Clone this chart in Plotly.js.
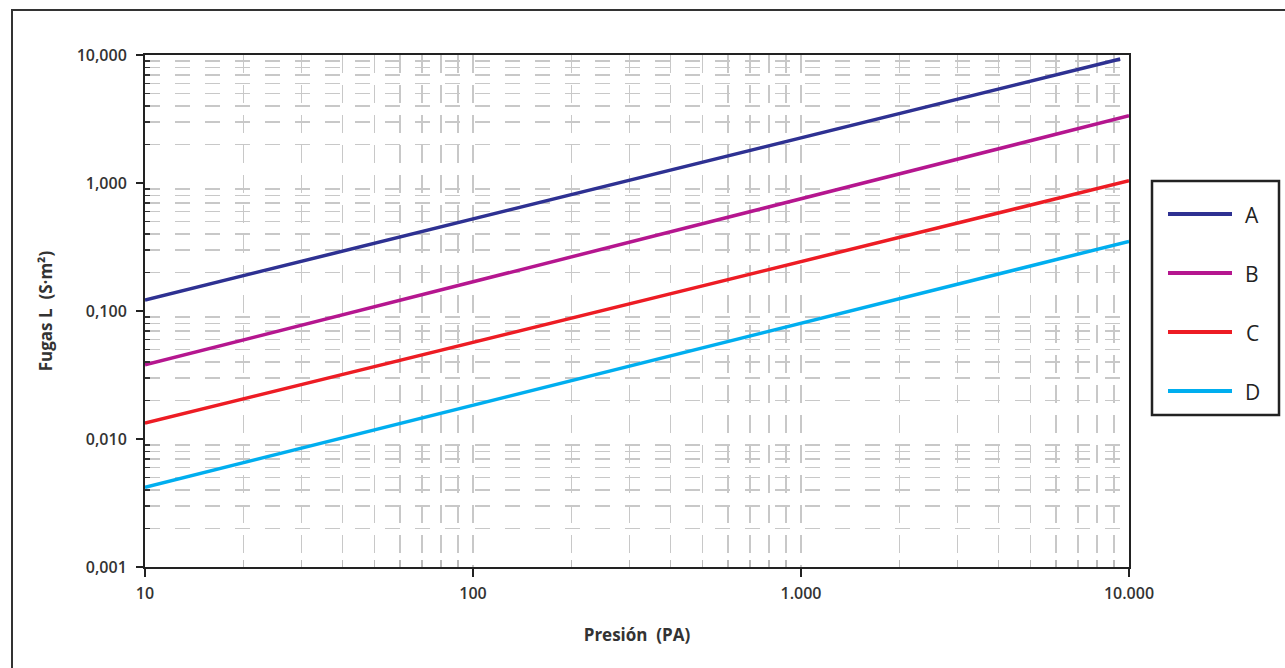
<!DOCTYPE html>
<html>
<head>
<meta charset="utf-8">
<script src="https://cdn.plot.ly/plotly-3.0.1.min.js"></script>
<style>html,body{margin:0;padding:0;background:#fff;}#chart{width:1285px;height:668px;}</style>
</head>
<body>
<div id="chart"></div>
<script>
// Data
const seriesNames = ["A", "B", "C", "D"];
const colors = ["#2e3192", "#b5168f", "#ed1c24", "#00aeef"];
const pressureA = [10, 9400];
const pressureBCD = [10, 10000];
const leakA = [0.122, 9.3];
const leakB = [0.038, 3.35];
const leakC = [0.0133, 1.04];
const leakD = [0.0042, 0.35];
const xTickVals = [10, 100, 1000, 10000];
const xTickText = ["10", "100", "1.000", "10.000"];
const yTickVals = [0.001, 0.01, 0.1, 1, 10];
const yTickText = ["0,001", "0,010", "0,100", "1,000", "10,000"];

const xs = [pressureA, pressureBCD, pressureBCD, pressureBCD];
const ys = [leakA, leakB, leakC, leakD];

const traces = seriesNames.map((n, i) => ({
  x: xs[i], y: ys[i], name: n, type: "scatter", mode: "lines",
  line: {color: colors[i], width: 3.5}, showlegend: false, hoverinfo: "skip"
}));

const L = 145, R = 1129, T = 55, B = 567;
const pw = R - L, ph = B - T;
const px = v => (v - L) / pw;
const py = v => (B - v) / ph;

const shapes = [
  // outer frame
  {type: "rect", xref: "paper", yref: "paper", x0: px(12), x1: px(1300), y0: py(690), y1: py(10),
   line: {color: "#333", width: 2}, fillcolor: "rgba(0,0,0,0)"},
  // legend box
  {type: "rect", xref: "paper", yref: "paper", x0: px(1152), x1: px(1279), y0: py(415), y1: py(181),
   line: {color: "#222", width: 2.5}, fillcolor: "#fff"}
];
const annotations = [];
const legY = [214, 273, 332, 391];
seriesNames.forEach((n, i) => {
  shapes.push({type: "line", xref: "paper", yref: "paper", x0: px(1168), x1: px(1232), y0: py(legY[i]), y1: py(legY[i]),
    line: {color: colors[i], width: 4}});
  annotations.push({xref: "paper", yref: "paper", x: px(1252), y: py(legY[i] + 1), text: n, showarrow: false,
    xanchor: "center", yanchor: "middle", font: {family: "Open Sans", size: 21, color: "#222"}});
});

const tickFont = {family: "Open Sans", size: 16, color: "#333", weight: 600};
const titleFont = {family: "Open Sans", size: 17, color: "#333", weight: 700};
const layout = {
  width: 1285, height: 668,
  margin: {l: L, r: 1285 - R, t: T, b: 668 - B},
  paper_bgcolor: "#fff", plot_bgcolor: "#fff",
  showlegend: false,
  xaxis: {
    type: "log", range: [1, 4], tickvals: xTickVals, ticktext: xTickText, tickfont: tickFont,
    ticks: "outside", ticklen: 8, tickwidth: 2, tickcolor: "#222", ticklabelstandoff: 3,
    showline: true, linecolor: "#222", linewidth: 2, mirror: true,
    showgrid: true, gridcolor: "#c8c8c8", gridwidth: 1.5, griddash: "18px,12px",
    minor: {tickvals: [20,30,40,50,60,70,80,90,200,300,400,500,600,700,800,900,2000,3000,4000,5000,6000,7000,8000,9000],
      showgrid: true, gridcolor: "#c8c8c8", gridwidth: 1.5, griddash: "18px,12px",
      ticks: "inside", ticklen: 7, tickcolor: "#bbb", tickwidth: 1.5},
    title: {text: "Presión  (PA)", font: titleFont, standoff: 26},
    zeroline: false, automargin: false
  },
  yaxis: {
    type: "log", range: [-3, 1], tickvals: yTickVals, ticktext: yTickText, tickfont: tickFont,
    ticks: "outside", ticklen: 7, tickwidth: 2, tickcolor: "#222", ticklabelstandoff: 6,
    showline: true, linecolor: "#222", linewidth: 2, mirror: true,
    showgrid: false,
    minor: {tickvals: [0.002,0.003,0.004,0.005,0.006,0.007,0.008,0.009,0.02,0.03,0.04,0.05,0.06,0.07,0.08,0.09,
      0.2,0.3,0.4,0.5,0.6,0.7,0.8,0.9,2,3,4,5,6,7,8,9],
      showgrid: true, gridcolor: "#c8c8c8", gridwidth: 1.5, griddash: "15px,15px",
      ticks: "inside", ticklen: 5, tickcolor: "#333", tickwidth: 1.5},
    title: {text: "Fugas L  (S·m²)", font: titleFont, standoff: 20},
    zeroline: false, automargin: false
  },
  shapes: shapes,
  annotations: annotations
};
Plotly.newPlot("chart", traces, layout, {staticPlot: true, displayModeBar: false});
</script>
</body>
</html>
